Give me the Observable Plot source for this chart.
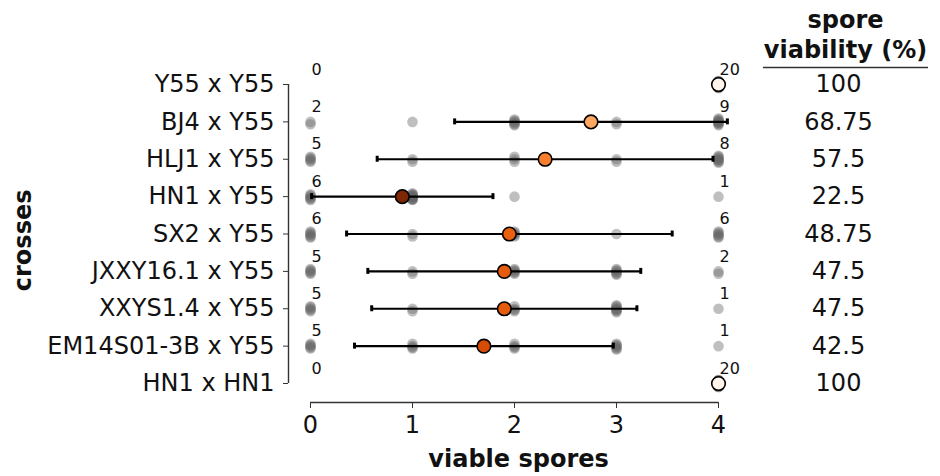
<!DOCTYPE html>
<html><head><meta charset="utf-8">
<script src="https://cdn.jsdelivr.net/npm/d3@7"></script>
<script src="https://cdn.jsdelivr.net/npm/@observablehq/plot@0.6"></script>
<style>
html,body{margin:0;padding:0;background:#fff;}
#chart svg{font-family:"DejaVu Sans",sans-serif;display:block;}
</style>
</head><body><div id="chart"></div>
<script>
// ---- data ----
const crosses = ["Y55 x Y55","BJ4 x Y55","HLJ1 x Y55","HN1 x Y55","SX2 x Y55","JXXY16.1 x Y55","XXYS1.4 x Y55","EM14S01-3B x Y55","HN1 x HN1"];
const viableSporeTicks = [0,1,2,3,4];
// number of tetrads with 0..4 viable spores, per cross
const tetrads0 = [0,2,5,6,6,5,5,5,0];
const tetrads1 = [0,1,2,12,2,2,2,4,0];
const tetrads2 = [0,6,3,1,5,5,4,4,0];
const tetrads3 = [0,2,2,0,1,6,8,6,0];
const tetrads4 = [20,9,8,1,6,2,1,1,20];
const viability = [100,68.75,57.5,22.5,48.75,47.5,47.5,42.5,100];
const viabilityLabels = ["100","68.75","57.5","22.5","48.75","47.5","47.5","42.5","100"];

// ---- layout constants (not data) ----
const X0 = -0.2157;        // left spine position in x units
const Y_AXIS = 8.508;      // bottom spine position in y units
const ROW_PX = 37.375;
const jitterPx = [0, 2.4, -2.4, 1.2, -1.2, 3.4, -3.4, 0.6, -0.6, 1.8, -1.8, 2.9, -2.9];

const byClass = [tetrads0, tetrads1, tetrads2, tetrads3, tetrads4];
const tetrads = [];
const stats = crosses.map((name, row) => {
  let n = 0, s = 0, s2 = 0;
  viableSporeTicks.forEach((k, ki) => {
    const c = byClass[ki][row];
    for (let j = 0; j < c; j++) tetrads.push({row, k, j: jitterPx[j % jitterPx.length] / ROW_PX});
    n += c; s += c * k; s2 += c * k * k;
  });
  const mean = s / n;
  const sd = Math.sqrt(Math.max(0, s2 / n - mean * mean));
  return {row, name, mean, sd, n0: tetrads0[row], n4: tetrads4[row], v: viability[row], label: viabilityLabels[row]};
});
const bars = stats.filter(d => d.sd > 0);
const caps = bars.flatMap(d => [{row: d.row, x: d.mean - d.sd}, {row: d.row, x: d.mean + d.sd}]);

const chart = Plot.plot({
  width: 940, height: 476,
  marginLeft: 288, marginRight: 222, marginTop: 0, marginBottom: 74,
  x: {domain: [X0, 4]},
  y: {domain: [Y_AXIS, -2.2475]},
  color: {type: "linear", scheme: "oranges", domain: [22.5, 100], reverse: true},
  style: {fontFamily: "DejaVu Sans, sans-serif", background: "#fff", color: "#111"},
  marks: [
    Plot.ruleX([X0], {y1: 0, y2: 8, stroke: "#333", strokeWidth: 1.4}),
    Plot.ruleY([Y_AXIS], {x1: 0, x2: 4, stroke: "#333", strokeWidth: 1.4}),
    Plot.axisX({ticks: viableSporeTicks, tickFormat: d => String(d), tickSize: 6, tickPadding: 7, fontSize: 24, label: null, stroke: "#333", fill: "#111"}),
    Plot.axisY({ticks: d3.range(crosses.length), tickFormat: i => crosses[i], tickSize: 5, tickPadding: 9, fontSize: 24, label: null, stroke: "#333", fill: "#111"}),
    Plot.text(["viable spores"], {text: d => d, x: 2.04, frameAnchor: "bottom", textAnchor: "middle", dy: 64, fontSize: 24, fontWeight: "bold", fill: "#111"}),
    Plot.text(["crosses"], {text: d => d, y: 4.17, frameAnchor: "left", textAnchor: "middle", dx: -265, rotate: -90, fontSize: 24, fontWeight: "bold", fill: "#111"}),
    // tetrad dots
    Plot.dot(tetrads, {x: "k", y: d => d.row + d.j, r: 5.3, fill: "#666", fillOpacity: 0.42, stroke: "none"}),
    // error bars
    Plot.ruleY(bars, {y: "row", x1: d => d.mean - d.sd, x2: d => d.mean + d.sd, stroke: "#000", strokeWidth: 2.2}),
    Plot.ruleX(caps, {x: "x", y1: d => d.row - 0.08, y2: d => d.row + 0.08, stroke: "#000", strokeWidth: 3}),
    // means
    Plot.dot(stats, {x: "mean", y: "row", r: 6.8, fill: "v", stroke: "#000", strokeWidth: 1.6}),
    // count labels
    Plot.text(stats, {x: 0, y: "row", text: d => String(d.n0), textAnchor: "start", dx: 1, dy: -15, fontSize: 16, fill: "#111"}),
    Plot.text(stats, {x: 4, y: "row", text: d => String(d.n4), textAnchor: "start", dx: 1, dy: -15, fontSize: 16, fill: "#111"}),
    // viability column
    Plot.text(stats, {y: "row", text: "label", frameAnchor: "right", textAnchor: "middle", dx: 120, fontSize: 24, fill: "#111"}),
    Plot.text(["spore"], {text: d => d, frameAnchor: "top-right", textAnchor: "middle", dx: 127, dy: 10, fontSize: 24, fontWeight: "bold", fill: "#111"}),
    Plot.text(["viability (%)"], {text: d => d, frameAnchor: "top-right", textAnchor: "middle", dx: 127, dy: 40, fontSize: 24, fontWeight: "bold", fill: "#111"}),
    Plot.ruleY([-0.455], {x1: 4.441, x2: 6.059, stroke: "#333", strokeWidth: 1.4})
  ]
});
document.getElementById("chart").appendChild(chart);
</script>
</body></html>
